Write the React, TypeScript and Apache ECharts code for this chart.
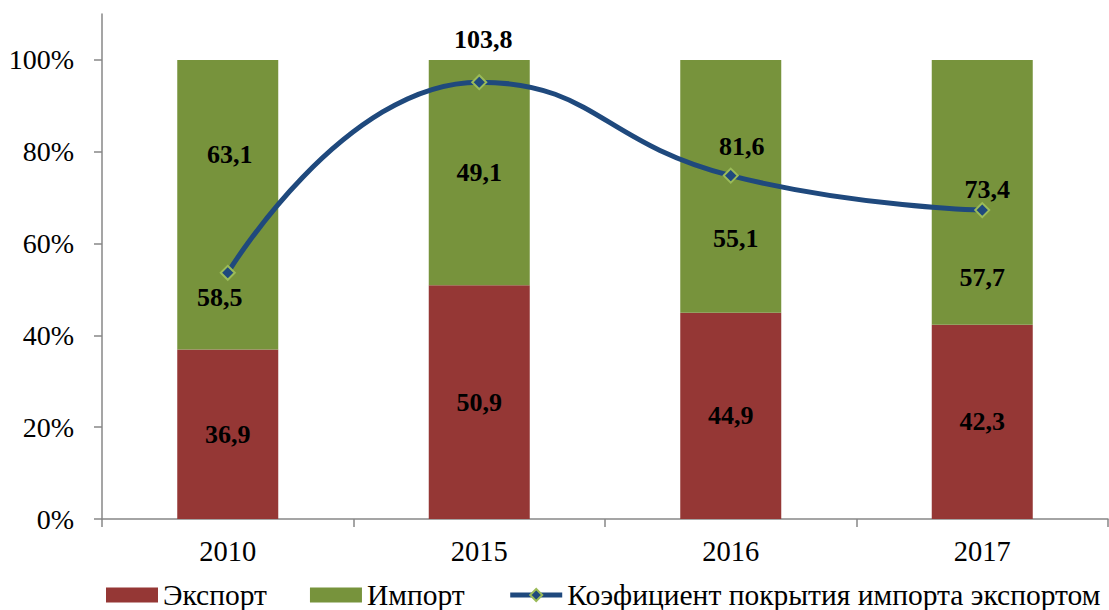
import React, { useEffect, useRef } from 'react';
import * as echarts from 'echarts';

const years = ['2010', '2015', '2016', '2017'];
const exportShare = [36.9, 50.9, 44.9, 42.3];
const importShare = [63.1, 49.1, 55.1, 57.7];
const coverage = [58.5, 103.8, 81.6, 73.4];
const yTicks = [0, 20, 40, 60, 80, 100];

const seriesNames = ['Экспорт', 'Импорт', 'Коэфициент покрытия импорта экспортом'];

// label placement tweaks (as in the original, manually moved labels)
const importLabelOffsets = [[2, -50], [0, 0], [5, 52], [0, 85]];
const coverageLabelOffsets = [[-8, 25], [4, -43], [11, -29], [5, -21]];

const FONT = '"Liberation Serif", "Times New Roman", serif';
const fmt = (v: number) => v.toFixed(1).replace('.', ',');

export default function App() {
  const ref = useRef<HTMLDivElement>(null);
  useEffect(() => {
    const chart = echarts.init(ref.current!, null, { renderer: 'svg' });
    const axisColor = '#878787';
    chart.setOption({
      animation: false,
      textStyle: { fontFamily: FONT },
      grid: { left: 102, right: 1, top: 14, bottom: 91 },
      legend: {
        left: 106,
        top: 579,
        width: 1100,
        itemWidth: 52,
        itemHeight: 15,
        itemGap: 43,
        padding: 0,
        textStyle: { fontSize: 29.5, lineHeight: 32, color: '#000', fontFamily: FONT },
        data: [
          { name: seriesNames[0], icon: 'rect' },
          { name: seriesNames[1], icon: 'rect' },
          { name: seriesNames[2], lineStyle: { width: 5 } },
        ],
      },
      xAxis: {
        type: 'category',
        data: years,
        axisLine: { show: true, lineStyle: { color: axisColor, width: 1.5 } },
        axisTick: { show: true, length: 8, lineStyle: { color: axisColor, width: 1.5 } },
        axisLabel: { fontSize: 28.5, color: '#000', margin: 18, fontFamily: FONT },
      },
      yAxis: [
        {
          type: 'value',
          min: 0,
          max: 110,
          interval: 20,
          splitLine: { show: false },
          axisLine: { show: true, lineStyle: { color: axisColor, width: 1.5 } },
          axisTick: { show: true, length: 8, customValues: yTicks, lineStyle: { color: axisColor, width: 1.5 } },
          axisLabel: {
            customValues: yTicks,
            formatter: '{value}%',
            fontSize: 28,
            color: '#000',
            margin: 28,
            fontFamily: FONT,
          },
        },
        { type: 'value', min: 0, max: 120, show: false, splitLine: { show: false } },
      ],
      series: [
        {
          name: seriesNames[0],
          type: 'bar',
          stack: 'share',
          barWidth: 101,
          itemStyle: { color: '#953735' },
          label: {
            show: true,
            position: 'inside',
            fontSize: 26,
            fontWeight: 'bold',
            color: '#000',
            fontFamily: FONT,
            formatter: (p: any) => fmt(p.value),
          },
          data: exportShare,
        },
        {
          name: seriesNames[1],
          type: 'bar',
          stack: 'share',
          barWidth: 101,
          itemStyle: { color: '#77933C' },
          label: {
            show: true,
            position: 'inside',
            fontSize: 26,
            fontWeight: 'bold',
            color: '#000',
            fontFamily: FONT,
            formatter: (p: any) => fmt(p.value),
          },
          data: importShare.map((v, i) => ({ value: v, label: { offset: importLabelOffsets[i] } })),
        },
        {
          name: seriesNames[2],
          type: 'line',
          yAxisIndex: 1,
          smooth: 0.5,
          symbol: 'diamond',
          symbolSize: 14,
          z: 5,
          lineStyle: { color: '#1F497D', width: 5 },
          itemStyle: { color: '#1F497D', borderColor: '#9BBB59', borderWidth: 2 },
          label: {
            show: true,
            position: 'inside',
            fontSize: 26,
            fontWeight: 'bold',
            color: '#000',
            fontFamily: FONT,
            formatter: (p: any) => fmt(p.value),
          },
          data: coverage.map((v, i) => ({ value: v, label: { offset: coverageLabelOffsets[i] } })),
        },
      ],
    });
    return () => chart.dispose();
  }, []);
  return (
    <div
      ref={ref}
      style={{ position: 'absolute', left: 0, top: 0, width: 1109, height: 610, background: '#fff' }}
    />
  );
}
